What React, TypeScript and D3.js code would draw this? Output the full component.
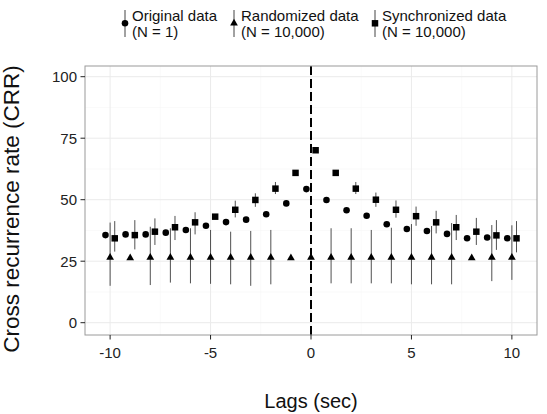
import React from 'react';
import * as d3 from 'd3';

const lags = [-10, -9, -8, -7, -6, -5, -4, -3, -2, -1, 0, 1, 2, 3, 4, 5, 6, 7, 8, 9, 10];

// original data (N = 1)
const originalCRR = [35.6, 35.9, 35.9, 36.6, 37.7, 39.4, 40.9, 41.9, 44.1, 48.5, 54.3, 49.9, 45.7, 43.5, 40.0, 38.1, 37.3, 36.1, 34.3, 34.6, 34.3];

// randomized data (N = 10,000), bars where visible
const randomCRR = [26.5, 26.3, 26.5, 26.5, 26.5, 26.5, 26.5, 26.5, 26.5, 26.3, 26.5, 26.5, 26.5, 26.5, 26.5, 26.5, 26.5, 26.5, 26.3, 26.5, 26.5];
const randomLo = [15.0, null, 15.3, 16.3, 16.0, 15.8, 15.6, 15.0, 15.6, null, null, 16.0, 16.0, 16.0, 16.0, 15.6, 15.6, 15.6, null, 16.9, 17.4];
const randomHi = [40.7, null, 39.0, 38.4, 38.4, 37.7, 37.0, 37.3, 37.7, null, null, 38.4, 38.4, 37.7, 38.6, 40.1, 39.3, 40.5, null, 39.7, 39.6];

// synchronized data (N = 10,000)
const syncCRR = [34.3, 35.6, 37.0, 38.8, 40.8, 43.1, 45.9, 49.9, 54.5, 60.9, 70.1, 60.9, 54.5, 50.0, 45.9, 43.3, 40.8, 38.8, 37.0, 35.5, 34.3];
const syncLo = [28.9, 29.8, 31.6, 33.6, 35.9, null, 42.8, 47.1, 52.3, null, null, null, 52.3, 47.1, 42.7, 39.4, 36.3, 33.6, 31.6, 29.6, 28.6];
const syncHi = [41.3, 41.7, 42.4, 43.4, 44.9, null, 49.6, 52.6, 57.2, null, null, null, 57.2, 52.9, 49.7, 47.2, 45.5, 43.8, 42.6, 41.7, 41.3];

const xTicks = [-10, -5, 0, 5, 10];
const xMinor = [-7.5, -2.5, 2.5, 7.5];
const yTicks = [0, 25, 50, 75, 100];
const yMinor = [12.5, 37.5, 62.5, 87.5];

const legendLabels = [
  ['Original data', '(N = 1)'],
  ['Randomized data', '(N = 10,000)'],
  ['Synchronized data', '(N = 10,000)'],
];

const W = 547;
const H = 414;
const FONT = '"Liberation Sans", Arial, sans-serif';

const App: React.FC = () => {
  const left = 85, right = 537, top = 66, bottom = 335;
  const x = d3.scaleLinear().domain([-11.25, 11.25]).range([left, right]);
  const y = d3.scaleLinear().domain([-5, 104.35]).range([bottom, top]);
  const dodge = 0.23;

  const circle = d3.symbol(d3.symbolCircle, 34)()!;
  const tri = d3.symbol(d3.symbolTriangle, 26)()!;
  const square = d3.symbol(d3.symbolSquare, 42)()!;
  const shapes = [circle, tri, square];

  const series = [
    { off: -dodge, val: originalCRR, lo: null as any, hi: null as any, shape: circle },
    { off: 0, val: randomCRR, lo: randomLo, hi: randomHi, shape: tri },
    { off: dodge, val: syncCRR, lo: syncLo, hi: syncHi, shape: square },
  ];

  const legendX = [125, 234, 375];

  return (
    <svg width={W} height={H} style={{ position: 'absolute', left: 0, top: 0, background: '#fff' }} fontFamily={FONT}>
      {/* legend */}
      {legendLabels.map((lab, i) => (
        <g key={i} transform={`translate(${legendX[i]},0)`}>
          <line x1={0} x2={0} y1={10} y2={37} stroke="#444" strokeWidth={1} />
          <path d={shapes[i]} transform="translate(0,23.3)" fill="#000" />
          <text x={7} y={21} fontSize={15} fill="#111">{lab[0]}</text>
          <text x={7} y={36.5} fontSize={15} fill="#111">{lab[1]}</text>
        </g>
      ))}

      {/* grid */}
      {yMinor.map(v => (
        <line key={'ym' + v} x1={left} x2={right} y1={y(v)} y2={y(v)} stroke="#f6f6f6" strokeWidth={0.6} />
      ))}
      {xMinor.map(v => (
        <line key={'xm' + v} x1={x(v)} x2={x(v)} y1={top} y2={bottom} stroke="#f6f6f6" strokeWidth={0.6} />
      ))}
      {yTicks.map(v => (
        <line key={'yg' + v} x1={left} x2={right} y1={y(v)} y2={y(v)} stroke="#ebebeb" strokeWidth={1} />
      ))}
      {xTicks.map(v => (
        <line key={'xg' + v} x1={x(v)} x2={x(v)} y1={top} y2={bottom} stroke="#ebebeb" strokeWidth={1} />
      ))}

      {/* error bars */}
      {series.map((s, si) =>
        s.lo
          ? lags.map((l, i) =>
              s.lo[i] == null ? null : (
                <line key={`e${si}-${i}`} x1={x(l + s.off)} x2={x(l + s.off)} y1={y(s.lo[i])} y2={y(s.hi[i])}
                  stroke="#3c3c3c" strokeWidth={0.9} />
              ))
          : null
      )}

      {/* points */}
      {series.map((s, si) =>
        lags.map((l, i) => (
          <path key={`p${si}-${i}`} d={s.shape} transform={`translate(${x(l + s.off)},${y(s.val[i])})`} fill="#000" />
        ))
      )}

      {/* lag 0 reference */}
      <line x1={x(0)} x2={x(0)} y1={top} y2={bottom} stroke="#000" strokeWidth={2} strokeDasharray="9,4" />

      {/* panel border */}
      <rect x={left} y={top} width={right - left} height={bottom - top} fill="none" stroke="#9a9a9a" strokeWidth={1} />

      {/* y axis */}
      {yTicks.map(v => (
        <g key={'yt' + v}>
          <line x1={left - 4.5} x2={left} y1={y(v)} y2={y(v)} stroke="#222" strokeWidth={1} />
          <text x={left - 8} y={y(v)} dy="0.36em" textAnchor="end" fontSize={15} fill="#222">{v}</text>
        </g>
      ))}
      {/* x axis */}
      {xTicks.map(v => (
        <g key={'xt' + v}>
          <line x1={x(v)} x2={x(v)} y1={bottom} y2={bottom + 4.5} stroke="#222" strokeWidth={1} />
          <text x={x(v)} y={358} textAnchor="middle" fontSize={15} fill="#222">{v}</text>
        </g>
      ))}

      <text x={x(0)} y={408} textAnchor="middle" fontSize={20} fill="#111">Lags (sec)</text>
      <text transform="translate(19,209) rotate(-90)" textAnchor="middle" fontSize={22.5} fill="#111">
        Cross recurrence rate (CRR)
      </text>
    </svg>
  );
};

export default App;
